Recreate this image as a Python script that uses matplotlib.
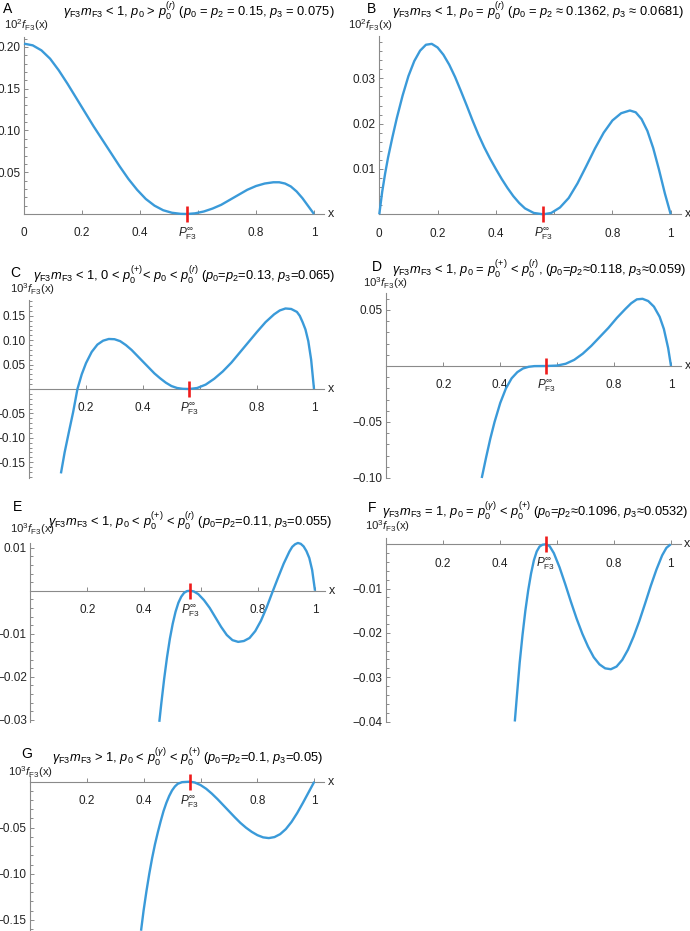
import matplotlib

matplotlib.use("Agg")
import matplotlib.pyplot as plt
from matplotlib.ticker import MultipleLocator
from matplotlib.transforms import offset_copy

plt.rcParams["font.family"] = ["Liberation Sans", "DejaVu Sans"]
plt.rcParams["mathtext.fontset"] = "custom"
plt.rcParams["mathtext.rm"] = "Liberation Sans"
plt.rcParams["mathtext.it"] = "Liberation Sans:italic"
plt.rcParams["mathtext.bf"] = "Liberation Sans:bold"

P_INF = 0.5625  # position of P_F3^inf marker

# ---- curves (x, 10^k f_F3(x)) ----
A_X = [0.00, 0.03, 0.06, 0.09, 0.12, 0.15, 0.18, 0.21, 0.24, 0.27, 0.30, 0.33, 0.36,
       0.39, 0.42, 0.45, 0.48, 0.51, 0.54, 0.5625, 0.59, 0.62, 0.65, 0.68, 0.71, 0.74,
       0.77, 0.80, 0.83, 0.86, 0.88, 0.90, 0.92, 0.94, 0.96, 0.98, 1.00]
A_Y = [0.204, 0.202, 0.196, 0.186, 0.172, 0.156, 0.139, 0.122, 0.105, 0.089, 0.073,
       0.057, 0.042, 0.029, 0.018, 0.010, 0.0045, 0.0015, 0.0002, 0.0, 0.0008, 0.003,
       0.0065, 0.011, 0.017, 0.023, 0.029, 0.0335, 0.0365, 0.038, 0.038, 0.0365, 0.033,
       0.027, 0.019, 0.0095, 0.0]

B_X = [0.00, 0.01, 0.02, 0.03, 0.045, 0.06, 0.08, 0.10, 0.12, 0.14, 0.16, 0.18, 0.20,
       0.22, 0.24, 0.26, 0.28, 0.30, 0.32, 0.34, 0.36, 0.38, 0.40, 0.42, 0.44, 0.46,
       0.48, 0.50, 0.53, 0.5625, 0.59, 0.62, 0.65, 0.68, 0.71, 0.74, 0.77, 0.80, 0.83,
       0.86, 0.88, 0.90, 0.92, 0.94, 0.96, 0.98, 1.00]
B_Y = [0.0, 0.0050, 0.0090, 0.0125, 0.0170, 0.0212, 0.0262, 0.0305, 0.0338, 0.0361,
       0.0374, 0.0376, 0.0368, 0.0352, 0.0330, 0.0303, 0.0272, 0.0240, 0.0207, 0.0176,
       0.0148, 0.0123, 0.0100, 0.0078, 0.0058, 0.0040, 0.0025, 0.0013, 0.0003, 0.0,
       0.0003, 0.0015, 0.0036, 0.0068, 0.0106, 0.0145, 0.0180, 0.0207, 0.0223, 0.0229,
       0.0225, 0.0210, 0.0184, 0.0146, 0.0098, 0.0046, 0.0]

C_X = [0.112, 0.125, 0.14, 0.155, 0.17, 0.185, 0.20, 0.22, 0.24, 0.26, 0.28, 0.30, 0.32,
       0.34, 0.36, 0.38, 0.40, 0.42, 0.44, 0.46, 0.48, 0.50, 0.52, 0.54, 0.5625, 0.59,
       0.62, 0.65, 0.68, 0.71, 0.74, 0.77, 0.80, 0.83, 0.86, 0.88, 0.90, 0.92, 0.94,
       0.95, 0.96, 0.97, 0.98, 0.99, 1.00]
C_Y = [-0.173, -0.130, -0.088, -0.047, 0.0, 0.030, 0.053, 0.076, 0.091, 0.099, 0.1025,
       0.102, 0.098, 0.090, 0.080, 0.068, 0.056, 0.044, 0.032, 0.022, 0.013, 0.006,
       0.002, 0.0004, 0.0, 0.002, 0.009, 0.021, 0.036, 0.054, 0.075, 0.096, 0.117,
       0.137, 0.153, 0.161, 0.165, 0.164, 0.158, 0.150, 0.137, 0.122, 0.098, 0.060, 0.0]

D_X = [0.335, 0.35, 0.365, 0.38, 0.40, 0.42, 0.44, 0.46, 0.48, 0.50, 0.52, 0.5625, 0.60,
       0.63, 0.66, 0.69, 0.72, 0.75, 0.78, 0.81, 0.84, 0.86, 0.88, 0.90, 0.92, 0.94,
       0.96, 0.975, 0.99, 1.00]
D_Y = [-0.100, -0.082, -0.065, -0.050, -0.033, -0.020, -0.011, -0.0055, -0.0022,
       -0.0007, -0.0001, 0.0, 0.0004, 0.002, 0.0055, 0.011, 0.018, 0.026, 0.034, 0.043,
       0.051, 0.056, 0.0595, 0.060, 0.058, 0.053, 0.044, 0.033, 0.016, 0.0]

E_X = [0.453, 0.46, 0.47, 0.48, 0.49, 0.50, 0.51, 0.52, 0.53, 0.54, 0.55, 0.5625, 0.575,
       0.59, 0.61, 0.63, 0.65, 0.67, 0.69, 0.71, 0.73, 0.75, 0.77, 0.79, 0.81, 0.83,
       0.85, 0.87, 0.89, 0.91, 0.92, 0.93, 0.94, 0.95, 0.96, 0.97, 0.98, 0.99, 1.00]
E_Y = [-0.0305, -0.0262, -0.0205, -0.0155, -0.0112, -0.0077, -0.0049, -0.0028, -0.0014,
       -0.0005, -0.0001, 0.0, -0.0002, -0.0008, -0.0022, -0.0040, -0.0062, -0.0084,
       -0.0103, -0.0115, -0.0119, -0.0117, -0.0110, -0.0094, -0.0070, -0.0039, -0.0004,
       0.0030, 0.0063, 0.0091, 0.0102, 0.0108, 0.0111, 0.0109, 0.0103, 0.0092, 0.0076,
       0.0048, 0.0]

F_X = [0.453, 0.46, 0.47, 0.48, 0.49, 0.50, 0.51, 0.52, 0.53, 0.54, 0.55, 0.5625, 0.575,
       0.59, 0.61, 0.63, 0.65, 0.67, 0.69, 0.71, 0.73, 0.75, 0.77, 0.79, 0.81, 0.83,
       0.85, 0.87, 0.89, 0.91, 0.93, 0.95, 0.97, 0.985, 1.00]
F_Y = [-0.040, -0.0345, -0.0268, -0.0205, -0.0150, -0.0104, -0.0066, -0.0036, -0.0016,
       -0.0005, -0.0001, 0.0, -0.0004, -0.0020, -0.0052, -0.0090, -0.0130, -0.0168,
       -0.0202, -0.0231, -0.0255, -0.0271, -0.0280, -0.0282, -0.0276, -0.0261, -0.0238,
       -0.0208, -0.0173, -0.0134, -0.0094, -0.0057, -0.0025, -0.0008, 0.0]

G_X = [0.391, 0.40, 0.41, 0.42, 0.43, 0.44, 0.45, 0.46, 0.47, 0.48, 0.49, 0.50, 0.51,
       0.52, 0.535, 0.5625, 0.58, 0.60, 0.62, 0.64, 0.66, 0.68, 0.70, 0.72, 0.74, 0.76,
       0.78, 0.80, 0.82, 0.84, 0.86, 0.88, 0.90, 0.92, 0.94, 0.96, 0.98, 1.00]
G_Y = [-0.162, -0.140, -0.119, -0.100, -0.083, -0.068, -0.055, -0.043, -0.032, -0.023,
       -0.0155, -0.0095, -0.0052, -0.0023, -0.0005, 0.0, -0.0009, -0.0036, -0.0077,
       -0.0130, -0.0190, -0.0255, -0.0320, -0.0385, -0.0447, -0.0500, -0.0545, -0.0581,
       -0.0605, -0.0613, -0.0602, -0.0570, -0.0515, -0.0437, -0.0340, -0.0230, -0.0115,
       0.0]

# ---- y ticks ----
A_YT = [0.05, 0.10, 0.15, 0.20]
B_YT = [0.01, 0.02, 0.03]
C_YT = [-0.15, -0.10, -0.05, 0.05, 0.10, 0.15]
D_YT = [-0.10, -0.05, 0.05]
E_YT = [-0.03, -0.02, -0.01, 0.01]
F_YT = [-0.04, -0.03, -0.02, -0.01]
G_YT = [-0.15, -0.10, -0.05]

GF = r"$\gamma_{\rm F3}m_{\rm F3}$"
TITLES = [
    GF + r" < 1, $p_0$ > $p_0^{(r)}$ ($p_0$ = $p_2$ = 0.15, $p_3$ = 0.075)",
    GF + r" < 1, $p_0$ = $p_0^{(r)}$ ($p_0$ = $p_2$ ≈ 0.1362, $p_3$ ≈ 0.0681)",
    GF + r" < 1, 0 < $p_0^{(+)}$< $p_0$ < $p_0^{(r)}$ ($p_0$=$p_2$=0.13, $p_3$=0.065)",
    GF + r" < 1, $p_0$ = $p_0^{(+)}$ < $p_0^{(r)}$, ($p_0$=$p_2$≈0.118, $p_3$≈0.059)",
    GF + r" < 1, $p_0$ < $p_0^{(+)}$ < $p_0^{(r)}$ ($p_0$=$p_2$=0.11, $p_3$=0.055)",
    GF + r" = 1, $p_0$ = $p_0^{(\gamma)}$ < $p_0^{(+)}$ ($p_0$=$p_2$≈0.1096, $p_3$≈0.0532)",
    GF + r" > 1, $p_0$ < $p_0^{(\gamma)}$ < $p_0^{(+)}$ ($p_0$=$p_2$=0.1, $p_3$=0.05)",
]
LETTERS = ["A", "B", "C", "D", "E", "F", "G"]
EXPONENTS = [2, 2, 3, 3, 3, 3, 3]

# ---- layout (pixels in a 690x931 canvas) ----
# x0, x1: pixel of x=0 and x=1; y0: pixel row of y=0; ys: pixels per unit y
LAYOUT = [
    dict(x0=24.0, x1=314.0, y0=214.0, ys=835.0, ylim=(0.0, 0.212), minor=0.01,
         zero=True, letter=(8, 9), title=(199, 11), ylab=(4, 25)),
    dict(x0=379.3, x1=670.7, y0=214.3, ys=4533.0, ylim=(0.0, 0.0393), minor=0.002,
         zero=True, letter=(372, 9), title=(538, 11), ylab=(348, 25)),
    dict(x0=29.0, x1=314.0, y0=389.0, ys=488.0, ylim=(-0.182, 0.182), minor=0.01,
         zero=False, letter=(15, 273), title=(184, 275), ylab=(10, 289)),
    dict(x0=386.4, x1=671.0, y0=366.0, ys=1120.0, ylim=(-0.100, 0.065), minor=0.01,
         zero=False, letter=(377, 267), title=(539, 269), ylab=(363, 283)),
    dict(x0=30.4, x1=315.0, y0=590.7, ys=4300.0, ylim=(-0.0305, 0.0111), minor=0.002,
         zero=False, letter=(18, 507), title=(190, 521), ylab=(10, 529)),
    dict(x0=385.7, x1=670.7, y0=544.3, ys=4430.0, ylim=(-0.0400, 0.0014), minor=0.002,
         zero=False, letter=(372, 508), title=(535, 511), ylab=(365, 526)),
    dict(x0=29.8, x1=314.3, y0=781.7, ys=920.0, ylim=(-0.169, 0.0065), minor=0.01,
         zero=False, letter=(27, 754), title=(188, 757), ylab=(8, 772)),
]

CURVES = [(A_X, A_Y), (B_X, B_Y), (C_X, C_Y), (D_X, D_Y), (E_X, E_Y), (F_X, F_Y),
          (G_X, G_Y)]
YTICKS = [A_YT, B_YT, C_YT, D_YT, E_YT, F_YT, G_YT]

W, H = 690, 931
XMAX = 1.035
LINE_C = "#3a9ad9"
AXIS_C = "#8a8a8a"
TEXT_C = "#222222"
FS = 8.5
TITLE_FS = 9.3

fig = plt.figure(figsize=(W / 100, H / 100), dpi=100)


def fmt(v):
    s = f"{abs(v):.2f}"
    return ("\u2212" + s) if v < 0 else s


for i, lay in enumerate(LAYOUT):
    sx = lay["x1"] - lay["x0"]
    xlo, xhi = -0.01, XMAX
    ylo, yhi = lay["ylim"]
    left = lay["x0"] + xlo * sx
    top = lay["y0"] - yhi * lay["ys"]
    wpx = (xhi - xlo) * sx
    hpx = (yhi - ylo) * lay["ys"]
    ax = fig.add_axes([left / W, 1 - (top + hpx) / H, wpx / W, hpx / H])
    ax.set_xlim(xlo, xhi)
    ax.set_ylim(ylo, yhi)
    ax.patch.set_alpha(0)

    for side in ("top", "right"):
        ax.spines[side].set_visible(False)
    ax.spines["left"].set_position(("data", 0))
    ax.spines["bottom"].set_position(("data", 0))
    ax.spines["left"].set_bounds(ylo, yhi)
    ax.spines["bottom"].set_bounds(0, XMAX)
    for side in ("left", "bottom"):
        ax.spines[side].set_color(AXIS_C)
        ax.spines[side].set_linewidth(0.8)

    xt = [0.2, 0.4, 0.6, 0.8, 1.0]
    ax.set_xticks(xt)
    ax.set_xticklabels([])
    yt = YTICKS[i]
    ax.set_yticks(yt)
    ax.set_yticklabels([fmt(v) for v in yt])
    ax.yaxis.set_minor_locator(MultipleLocator(lay["minor"]))
    ax.tick_params(axis="both", which="both", direction="in", color=AXIS_C,
                   width=0.7, labelsize=FS, labelcolor=TEXT_C)
    ax.tick_params(axis="both", which="major", length=3.0)
    ax.tick_params(axis="y", which="minor", length=1.8)
    ax.tick_params(axis="y", pad=2.5)

    # x tick labels drawn as text so the P label sits on the same baseline
    trans = offset_copy(ax.transData, fig=fig, y=-22.5, units="dots")
    labels = [(0.2, "0.2"), (0.4, "0.4"), (P_INF, r"$P^{\infty}_{\rm F3}$"),
              (0.8, "0.8"), (1.0, "1")]
    if lay["zero"]:
        labels = [(0.0, "0")] + labels
    for xv, s in labels:
        ax.text(xv, 0, s, transform=trans, ha="center", va="baseline",
                fontsize=FS, color=TEXT_C)
    ax.text(1.058, 0, "x", ha="center", va="center", fontsize=FS + 0.5, color=TEXT_C)

    xs, ys = CURVES[i]
    ax.plot(xs, ys, color=LINE_C, lw=1.7, solid_capstyle="butt", clip_on=False,
            zorder=3)
    ax.plot([P_INF], [0], marker="|", markersize=11, mew=1.9, color="#ee1c1c",
            zorder=4, clip_on=False)

    lx, ly = lay["letter"]
    fig.text(lx / W, 1 - ly / H, LETTERS[i], ha="center", va="center", fontsize=10,
             color="black")
    tx, ty = lay["title"]
    fig.text(tx / W, 1 - ty / H, TITLES[i], ha="center", va="center",
             fontsize=TITLE_FS, color="black")
    yx, yy = lay["ylab"]
    fig.text(yx / W, 1 - yy / H,
             r"$10^{%d}f_{\rm F3}(\mathrm{x})$" % EXPONENTS[i],
             ha="left", va="center", fontsize=FS - 0.3, color=TEXT_C)

fig.savefig("out.png", dpi=100)
